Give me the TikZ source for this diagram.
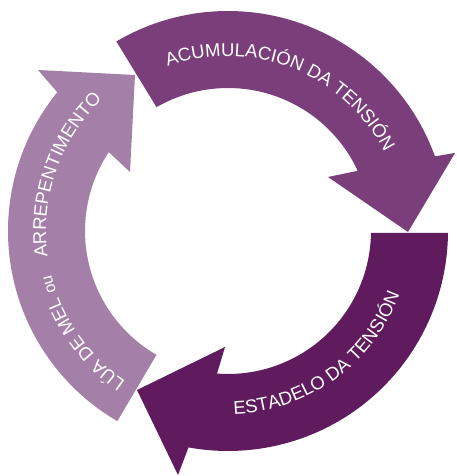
\documentclass[tikz,border=0pt]{standalone}
\usepackage{fontspec}
\setmainfont{Liberation Sans}
\usetikzlibrary{decorations.text}
\definecolor{acumc}{RGB}{122,62,122}
\definecolor{estadc}{RGB}{95,27,94}
\definecolor{luac}{RGB}{164,127,168}
\newcommand{\bigtxt}{\fontsize{18.5}{20}\selectfont\color{white}}
\newcommand{\smalltxt}{\fontsize{16}{18}\selectfont\color{white}}
\begin{document}
\begin{tikzpicture}[x=1pt,y=1pt,
  arrowband/.style={fill=#1, draw=none},
  arclabel/.style={decorate, decoration={text along path, text align=center, text={#1}}}]
\useasboundingbox (0,0) rectangle (456,476);
\coordinate (C) at (228,245);
% left arrow: LUA DE MEL ou ARREPENTIMENTO
\coordinate (lbo) at (38,406);
\coordinate (ltip) at (135,401);
\coordinate (lbi) at (130,304);
\fill[arrowband=luac] ([shift={(C)}]239.8:220) arc[start angle=239.8, end angle=140.9, radius=220]
  -- (lbo) -- (ltip) -- (lbi) -- ([shift={(C)}]146.5:143) arc[start angle=146.5, end angle=240, radius=143] -- cycle;
% top arrow: ACUMULACION DA TENSION
\coordinate (tbo) at (455,323);
\coordinate (ttip) at (408,244);
\coordinate (tbi) at (328,299);
\fill[arrowband=acumc] ([shift={(C)}]120.5:220) arc[start angle=120.5, end angle=19.85, radius=220]
  -- (tbo) -- (ttip) -- (tbi) -- ([shift={(C)}]24.9:143) arc[start angle=24.9, end angle=120, radius=143] -- cycle;
% right arrow: ESTADELO DA TENSION
\coordinate (rbo) at (178,1);
\coordinate (rtip) at (137,86);
\coordinate (rbi) at (225,129);
\fill[arrowband=estadc] ([shift={(C)}]-0.5:220) arc[start angle=-0.5, end angle=-100.35, radius=220]
  -- (rbo) -- (rtip) -- (rbi) -- ([shift={(C)}]-94.4:143) arc[start angle=-94.4, end angle=-0.8, radius=143] -- cycle;
% labels
\path[arclabel={|\bigtxt|ACUMULACIÓN DA TENSIÓN}] ([shift={(C)}]128.4:175) arc[start angle=128.4, end angle=8.4, radius=175];
\path[arclabel={|\bigtxt|ESTADELO DA TENSIÓN}] ([shift={(C)}]-114.2:183) arc[start angle=-114.2, end angle=5.8, radius=183];
\path[arclabel={|\bigtxt|LÚA DE MEL |\smalltxt|ou}] ([shift={(C)}]254.9:182) arc[start angle=254.9, end angle=174.9, radius=182];
\path[arclabel={|\bigtxt|ARREPENTIMENTO}] ([shift={(C)}]200.85:182) arc[start angle=200.85, end angle=120.85, radius=182];
\end{tikzpicture}
\end{document}
